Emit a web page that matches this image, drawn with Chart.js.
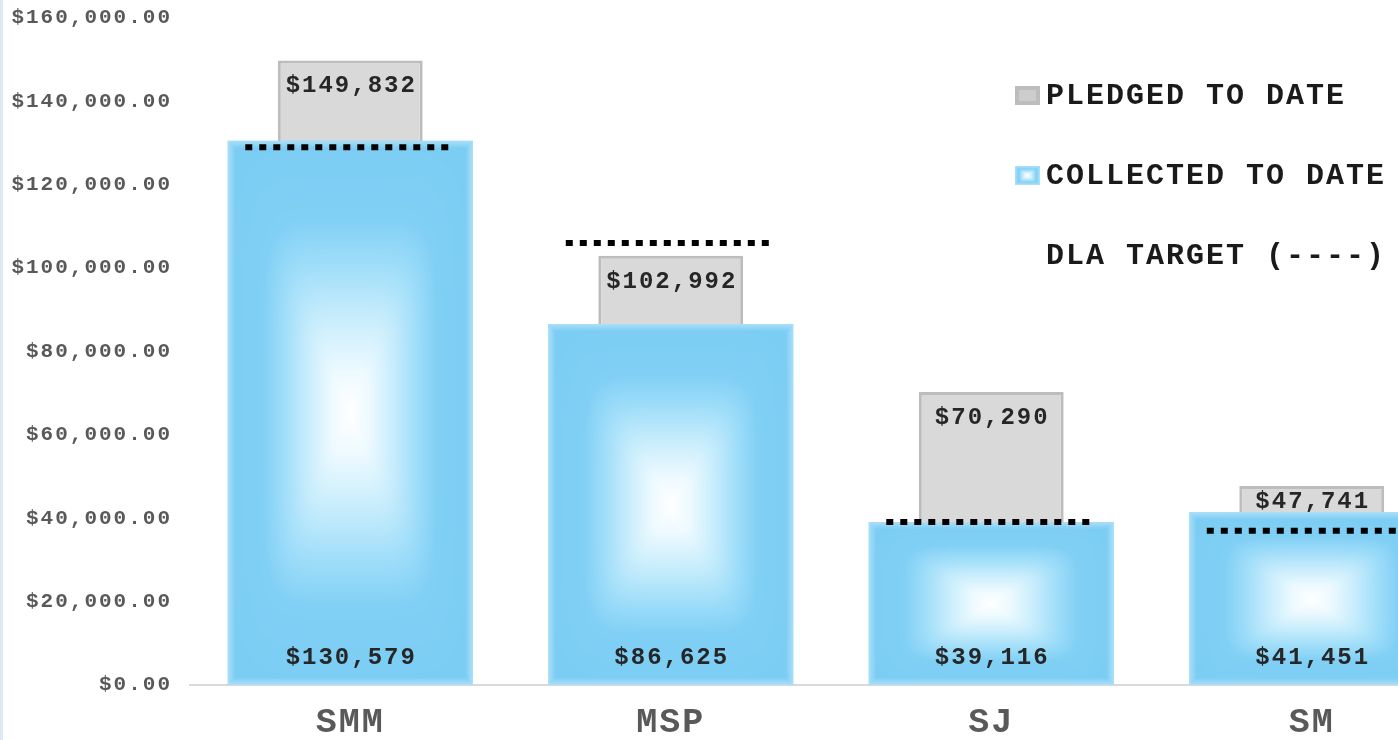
<!DOCTYPE html>
<html>
<head>
<meta charset="utf-8">
<script src="https://cdn.jsdelivr.net/npm/chart.js@4.4.1/dist/chart.umd.min.js"></script>
<style>
html, body { margin: 0; padding: 0; background: #fff; overflow: hidden; }
#wrap { position: relative; width: 1398px; height: 740px; overflow: hidden; }
#edge { position: absolute; left: 0; top: 0; width: 3px; height: 740px; background: #dde9f5; }
canvas { display: block; }
</style>
</head>
<body>
<div id="wrap">
  <canvas id="myChart" width="1472" height="740"></canvas>
  <div id="edge"></div>
</div>
<script>
// chart data
const categories = ['SMM', 'MSP', 'SJ', 'SM'];
const pledged = [149832, 102992, 70290, 47741];
const collected = [130579, 86625, 39116, 41451];
const targets = [129000, 106000, 39100, 37000];
const yMax = 160000;
const yStep = 20000;
const legendLabels = ['PLEDGED TO DATE', 'COLLECTED TO DATE', 'DLA TARGET (----)'];

const FONT = "'Liberation Mono', 'Courier New', monospace";
const money2 = v => '$' + v.toLocaleString('en-US', { minimumFractionDigits: 2, maximumFractionDigits: 2 });
const money0 = v => '$' + v.toLocaleString('en-US');

// rectangular "from centre" gradient like the Excel fill
const stops = [
    [0.00, [255, 255, 255]],
    [0.15, [238, 250, 255]],
    [0.35, [200, 237, 252]],
    [0.55, [158, 221, 249]],
    [0.72, [128, 207, 245]],
    [1.00, [124, 205, 244]]
];
function ramp(d) {
    for (let i = 1; i < stops.length; i++) {
        if (d <= stops[i][0]) {
            const a = stops[i - 1], b = stops[i];
            const t = (d - a[0]) / (b[0] - a[0]);
            return a[1].map((c, k) => c + (b[1][k] - c) * t);
        }
    }
    return stops[stops.length - 1][1];
}
function boxGradient(w, h, edge) {
    const c = document.createElement('canvas');
    c.width = Math.max(1, Math.round(w));
    c.height = Math.max(1, Math.round(h));
    const g = c.getContext('2d');
    const img = g.createImageData(c.width, c.height);
    const hw = c.width / 2, hh = c.height / 2;
    const edgeCol = [168, 223, 249];
    for (let py = 0; py < c.height; py++) {
        for (let px = 0; px < c.width; px++) {
            const u = Math.abs(px + 0.5 - hw) / hw;
            const v = Math.abs(py + 0.5 - hh) / hh;
            const d = Math.min(1, Math.pow(Math.pow(u, 6) + Math.pow(v, 6), 1 / 6));
            let col = ramp(d);
            const ed = Math.min(px, c.width - 1 - px, py, c.height - 1 - py);
            if (ed < edge) {
                const f = 1 - ed / edge;
                col = col.map((cc, k) => cc + (edgeCol[k] - cc) * f);
            }
            const o = (py * c.width + px) * 4;
            img.data[o] = col[0]; img.data[o + 1] = col[1]; img.data[o + 2] = col[2]; img.data[o + 3] = 255;
        }
    }
    g.putImageData(img, 0, 0);
    return c;
}

// wide letter spacing of the original typeface
const spacingPlugin = {
    id: 'spacing',
    beforeUpdate(chart) { chart.ctx.letterSpacing = '2px'; },
    beforeDraw(chart) { chart.ctx.letterSpacing = '2px'; }
};

// paint the gradient into the collected bars
const blueFill = {
    id: 'blueFill',
    afterDatasetDraw(chart, args) {
        if (args.index !== 1) return;
        const ctx = chart.ctx;
        args.meta.data.forEach(el => {
            const p = el.getProps(['x', 'y', 'base', 'width'], true);
            const top = Math.min(p.y, p.base);
            const h = Math.abs(p.base - p.y);
            ctx.drawImage(boxGradient(p.width, h, 7), p.x - p.width / 2, top, p.width, h);
        });
    }
};

// target dotted lines + value labels
const overlay = {
    id: 'overlay',
    afterDatasetsDraw(chart) {
        const ctx = chart.ctx;
        const xs = chart.scales.x, ys = chart.scales.y;
        const catW = xs.getPixelForValue(1) - xs.getPixelForValue(0);
        ctx.save();
        ctx.strokeStyle = '#000';
        ctx.lineWidth = 6;
        ctx.setLineDash([7, 7]);
        targets.forEach((t, i) => {
            const x = xs.getPixelForValue(i);
            const y = ys.getPixelForValue(t);
            const hw = catW * 0.655 / 2;
            ctx.beginPath();
            ctx.moveTo(x - hw, y);
            ctx.lineTo(x + hw, y);
            ctx.stroke();
        });
        ctx.restore();

        ctx.save();
        ctx.font = 'bold 24px ' + FONT;
        ctx.fillStyle = '#262626';
        ctx.textAlign = 'center';
        ctx.textBaseline = 'middle';
        const base = ys.getPixelForValue(0);
        categories.forEach((c, i) => {
            const x = xs.getPixelForValue(i) + 1;
            const pTop = ys.getPixelForValue(pledged[i]);
            const cTop = ys.getPixelForValue(collected[i]);
            ctx.fillText(money0(pledged[i]), x, Math.min(pTop + 26, cTop - 10));
            ctx.fillText(money0(collected[i]), x, base - 27);
        });
        ctx.restore();
    },
    afterDraw(chart) {
        const ctx = chart.ctx;
        ctx.save();
        // markers
        ctx.fillStyle = '#bdbdbd';
        ctx.fillRect(1015, 86, 25, 19);
        ctx.fillStyle = '#cdcdcd';
        ctx.fillRect(1019, 90, 17, 11);
        ctx.drawImage(boxGradient(25, 19, 3), 1015, 166);
        ctx.font = 'bold 30px ' + FONT;
        ctx.fillStyle = '#1a1a1a';
        ctx.textAlign = 'left';
        ctx.textBaseline = 'middle';
        legendLabels.forEach((t, i) => {
            ctx.fillText(t, 1046, 96 + i * 80);
        });
        ctx.restore();
    }
};

const config = {
    type: 'bar',
    data: {
        labels: categories,
        datasets: [{
            label: legendLabels[0],
            data: pledged,
            backgroundColor: '#d9d9d9',
            borderColor: '#bdbdbd',
            borderWidth: 3,
            borderSkipped: 'bottom',
            barPercentage: 0.452,
            categoryPercentage: 1,
            grouped: false,
            order: 2
        }, {
            label: legendLabels[1],
            data: collected,
            backgroundColor: '#7fcff5',
            borderWidth: 0,
            barPercentage: 0.765,
            categoryPercentage: 1,
            grouped: false,
            order: 1
        }]
    },
    options: {
        responsive: false,
        animation: false,
        devicePixelRatio: 1,
        layout: { padding: { top: 18, left: 0, right: 0, bottom: 0 } },
        plugins: {
            legend: { display: false },
            tooltip: { enabled: false }
        },
        scales: {
            x: {
                afterFit: s => { s.height = 55; },
                grid: { display: false, drawTicks: false },
                border: { display: true, color: '#d9d9d9', width: 2 },
                ticks: {
                    font: { family: FONT, size: 35, weight: 'bold' },
                    color: '#595959',
                    padding: 17
                }
            },
            y: {
                min: 0,
                max: yMax,
                afterFit: s => { s.width = 190; s.paddingTop = 0; s.paddingBottom = 0; },
                grid: { display: false, drawTicks: false },
                border: { display: false },
                ticks: {
                    stepSize: yStep,
                    font: { family: FONT, size: 21, weight: 'bold' },
                    color: '#595959',
                    padding: 18,
                    callback: v => money2(v)
                }
            }
        }
    },
    plugins: [spacingPlugin, blueFill, overlay]
};

const myChart = new Chart(document.getElementById('myChart'), config);
</script>
</body>
</html>
